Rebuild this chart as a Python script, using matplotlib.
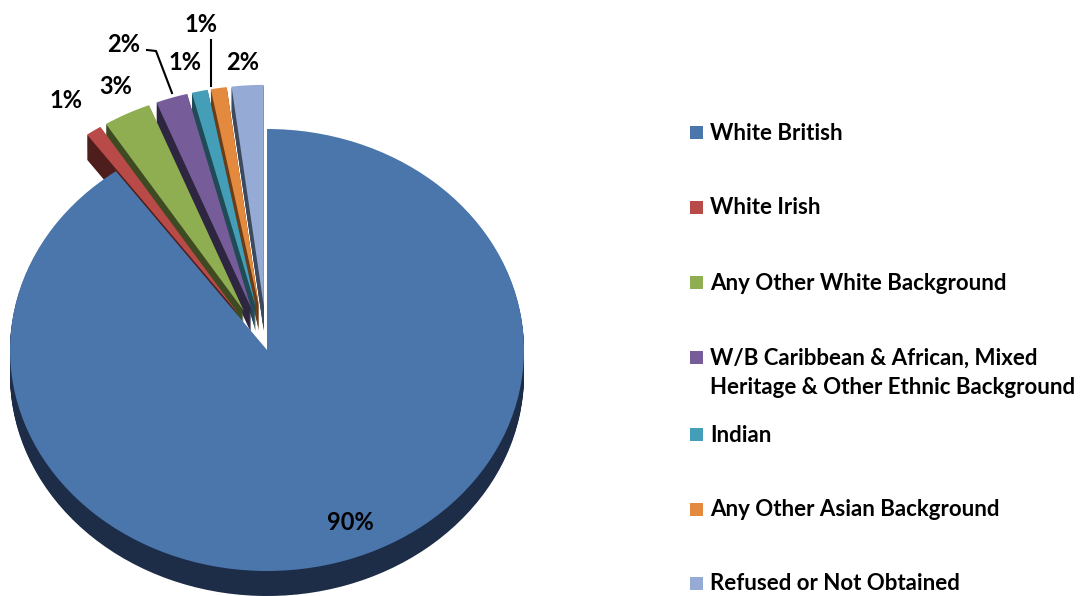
import matplotlib.pyplot as plt
from matplotlib.lines import Line2D
from matplotlib.patches import Rectangle

# Data
categories = ['White British', 'White Irish', 'Any Other White Background',
              'W/B Caribbean & African, Mixed\nHeritage & Other Ethnic Background',
              'Indian', 'Any Other Asian Background', 'Refused or Not Obtained']
values = [90, 1, 3, 2, 1, 1, 2]
pct_labels = ['90%', '1%', '3%', '2%', '1%', '1%', '2%']

top_colors = ['#4A76AC', '#B84A47', '#8FAE52', '#765C98', '#449EB7', '#E38A3E', '#95ABD5']
side_colors = ['#1D2D48', '#4E1E1C', '#3E4B22', '#2E2540', '#1F4A56', '#6A3C18', '#3D4A5E']
explode = [0, 0.2, 0.2, 0.2, 0.2, 0.2, 0.2]

W, H = 1083, 596
fig = plt.figure(figsize=(W / 100, H / 100), dpi=100)
ax = fig.add_axes([0, 0, 1, 1])
ax.axis('off')

# pie geometry in pixels (ellipse to fake the 3D tilt)
cx, cy, rx, ry = 267, 350, 257, 221
depth = 25

# extruded side walls: stacked copies shifted downward
n_layers = 26
for i in range(n_layers):
    off = depth * (1 - i / n_layers) / ry
    ax.pie(values, colors=side_colors, startangle=90, counterclock=False,
           explode=explode, radius=1, center=(0, -off), frame=True,
           wedgeprops=dict(linewidth=0))

# top face
ax.pie(values, colors=top_colors, startangle=90, counterclock=False,
       explode=explode, radius=1, center=(0, 0), frame=True,
       wedgeprops=dict(linewidth=0))

ax.set_aspect('auto')
ax.set_xlim(-cx / rx, (W - cx) / rx)
ax.set_ylim(-(H - cy) / ry, cy / ry)
ax.axis('off')

pct_font = dict(family='Lato', fontweight='bold', fontsize=17, color='#000000')
leg_font = dict(family='Lato', fontweight='bold', fontsize=16, color='#000000')


def fx(x):
    return x / W


def fy(y):
    return 1 - y / H


# percentage labels (pixel positions)
label_pos = [(350, 523), (66, 100), (116, 87), (124, 44), (185, 62), (201, 25), (243, 62)]
for txt, (x, y) in zip(pct_labels, label_pos):
    fig.text(fx(x), fy(y), txt, ha='center', va='center', **pct_font)

# leader lines
fig.add_artist(Line2D([fx(147), fx(156), fx(172)], [fy(50), fy(51), fy(93)],
                      color='black', lw=1.5))
fig.add_artist(Line2D([fx(211), fx(211)], [fy(40), fy(86)], color='black', lw=1.5))

# legend
legend_y = [133, 208, 283, 358, 435, 510, 584]
for cat, col, y in zip(categories, top_colors, legend_y):
    fig.add_artist(Rectangle((fx(690), fy(y + 6)), 13 / W, 13 / H,
                             facecolor=col, edgecolor='none'))
    lines = cat.split('\n')
    for j, line in enumerate(lines):
        fig.text(fx(710), fy(y + j * 29), line, ha='left', va='center', **leg_font)

fig.savefig('out.png', dpi=100)
